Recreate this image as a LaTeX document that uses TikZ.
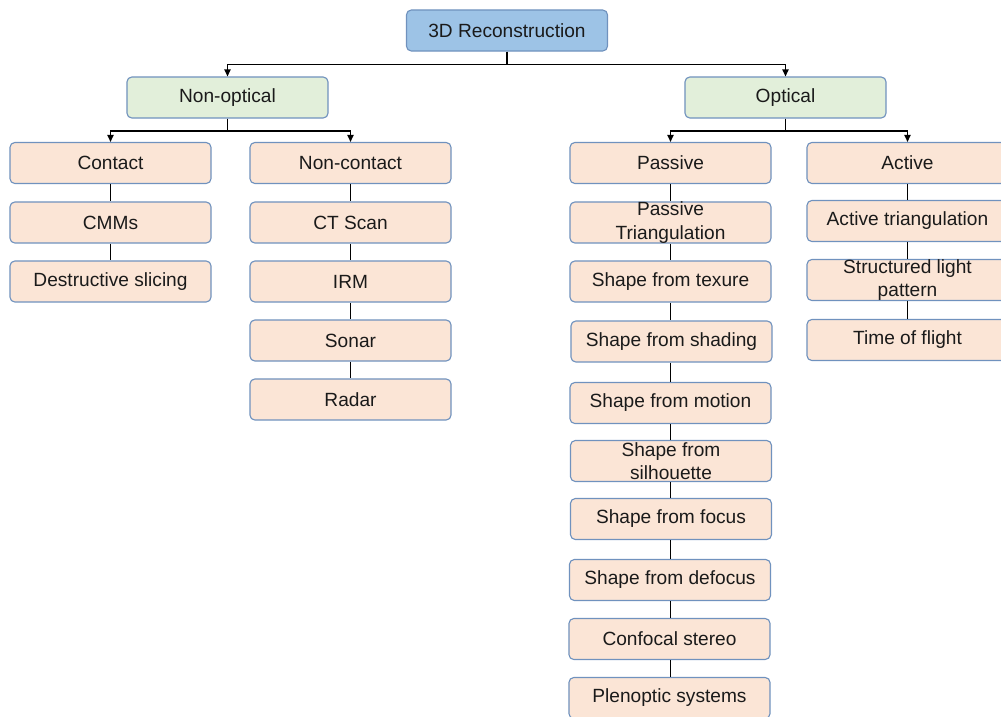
\documentclass[tikz,border=0pt]{standalone}
\usepackage{fontspec}
\setmainfont{Liberation Sans}
\usetikzlibrary{arrows.meta}
\definecolor{rootfill}{RGB}{157,195,230}
\definecolor{catfill}{RGB}{226,239,218}
\definecolor{leaffill}{RGB}{251,229,214}
\definecolor{boxline}{RGB}{112,146,190}
\definecolor{txt}{RGB}{26,26,26}
\begin{document}
\begin{tikzpicture}
		[x=0.025cm, y=-0.025cm, line width=0.9pt,
		every node/.style={rectangle,rounded corners=3.5pt,draw=boxline,line width=0.8pt,
			fill=leaffill,text=txt,minimum width=143pt,minimum height=29.2pt,
			inner xsep=2pt,inner ysep=0pt,align=center,
			font=\fontsize{13.6}{16.5}\selectfont},
		root/.style={fill=rootfill},
		cat/.style={fill=catfill},
		arr/.style={-{Triangle[length=5pt,width=4.5pt]}}]
		\useasboundingbox (0,0) rectangle (1001,717);
		\node (rec) [root] at (507,30.5) {3D Reconstruction};
		\node (nonopt) [cat] at (227.5,97.5) {Non-optical};
		\node (opt) [cat] at (785.5,97.5) {Optical};
		% non-optical branch
		\node (contact) at (110.5,163) {Contact};
		\node (cmm) at (110.5,222.5) {CMMs};
		\node (slice) at (110.5,281.5) {Destructive slicing};
		\node (noncontact) at (350.5,163) {Non-contact};
		\node (ct) at (350.5,222.5) {CT Scan};
		\node (irm) at (350.5,281.5) {IRM};
		\node (sonar) at (350.5,340.5) {Sonar};
		\node (radar) at (350.5,399.5) {Radar};
		% optical branch
		\node (passive) at (670.5,163) {Passive};
		\node (ptri) at (670.5,222.5) {Passive\\Triangulation};
		\node (texure) at (670.5,281.5) {Shape from texure};
		\node (shading) at (671.5,341.5) {Shape from shading};
		\node (motion) at (670.5,403) {Shape from motion};
		\node (silh) at (671,461) {Shape from\\silhouette};
		\node (focus) at (671,519) {Shape from focus};
		\node (defocus) at (670,580) {Shape from defocus};
		\node (confocal) at (669.5,639) {Confocal stereo};
		\node (pleno) at (669.5,698) {Plenoptic systems};
		\node (active) at (907.5,163) {Active};
		\node (atri) at (907.5,221) {Active triangulation};
		\node (struct) at (907.5,280) {Structured light\\pattern};
		\node (tof) at (907.5,340) {Time of flight};
		\draw [arr] (rec.south) -- ++(0,13) -| (nonopt);
		\draw [arr] (rec.south) -- ++(0,13) -| (opt);
		\draw [arr] (nonopt.south) -- ++(0,12.5) -| (contact);
		\draw [arr] (nonopt.south) -- ++(0,12.5) -| (noncontact);
		\draw [arr] (opt.south) -- ++(0,12.5) -| (passive);
		\draw [arr] (opt.south) -- ++(0,12.5) -| (active);
		\foreach \a/\b in {contact/cmm,cmm/slice,noncontact/ct,ct/irm,irm/sonar,sonar/radar,
			active/atri,atri/struct,struct/tof}
			\draw (\a) -- (\b);
		\foreach \a/\b in {passive/ptri,ptri/texure,texure/shading,shading/motion,motion/silh,
			silh/focus,focus/defocus,defocus/confocal,confocal/pleno}
			\draw (\a.south -| passive) -- (\b.north -| passive);
	\end{tikzpicture}
\end{document}
